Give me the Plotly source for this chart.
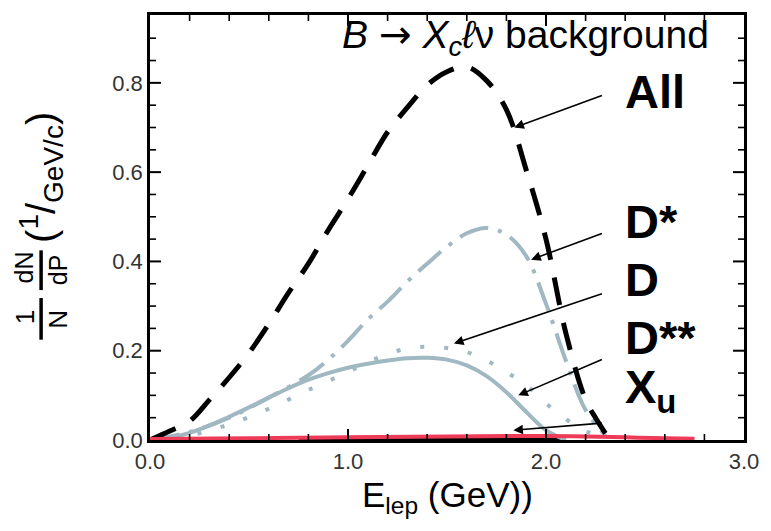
import plotly.graph_objects as go

# ---------------- data ----------------
all_x = [0.0, 0.1, 0.2, 0.3, 0.4, 0.5, 0.6, 0.7, 0.8, 0.9, 1.0, 1.1, 1.2, 1.3, 1.4, 1.5,
         1.6, 1.7, 1.8, 1.9, 2.0, 2.1, 2.2, 2.25, 2.3]
all_y = [0.0, 0.02, 0.042, 0.09, 0.14, 0.195, 0.26, 0.33, 0.395, 0.47, 0.54, 0.615, 0.69,
         0.745, 0.795, 0.825, 0.836, 0.805, 0.74, 0.605, 0.45, 0.24, 0.09, 0.05, 0.015]

dstar_x = [0.0, 0.2, 0.4, 0.6, 0.8, 0.9, 1.0, 1.1, 1.2, 1.3, 1.4, 1.5, 1.6, 1.7, 1.8,
           1.9, 2.0, 2.1, 2.2, 2.3]
dstar_y = [0.0, 0.018, 0.05, 0.095, 0.145, 0.18, 0.222, 0.27, 0.31, 0.355, 0.395, 0.433,
           0.463, 0.475, 0.46, 0.412, 0.305, 0.178, 0.067, 0.01]

d_x = [0.0, 0.1, 0.2, 0.3, 0.4, 0.5, 0.6, 0.7, 0.8, 0.9, 1.0, 1.1, 1.2, 1.3, 1.4, 1.5,
       1.6, 1.7, 1.8, 1.9, 2.0, 2.1]
d_y = [0.0, 0.005, 0.016, 0.032, 0.052, 0.073, 0.095, 0.116, 0.135, 0.15, 0.162, 0.171,
       0.178, 0.183, 0.184, 0.18, 0.167, 0.143, 0.107, 0.063, 0.022, 0.0]

dss_x = [0.0, 0.2, 0.4, 0.6, 0.8, 1.0, 1.1, 1.2, 1.3, 1.4, 1.5, 1.6, 1.7, 1.8, 1.9, 2.0,
         2.1, 2.2, 2.3]
dss_y = [0.0, 0.01, 0.035, 0.07, 0.112, 0.152, 0.174, 0.193, 0.205, 0.209, 0.206, 0.197,
         0.178, 0.152, 0.123, 0.082, 0.047, 0.02, 0.005]

xu_x = [0.0, 0.5, 1.0, 1.5, 2.0, 2.2, 2.4, 2.6, 2.75]
xu_y = [0.002, 0.004, 0.006, 0.008, 0.009, 0.008, 0.006, 0.004, 0.003]

other_x = [0.75, 1.2, 1.6, 2.1]
other_y = [0.001, 0.002, 0.002, 0.001]

# axes
x_range = [0.0, 3.0]
y_range = [0.0, 0.952]
x_tick_vals = [0.0, 1.0, 2.0, 3.0]
x_tick_text = ["0.0", "1.0", "2.0", "3.0"]
y_tick_vals = [0.0, 0.2, 0.4, 0.6, 0.8]
y_tick_text = ["0.0", "0.2", "0.4", "0.6", "0.8"]
x_minor_vals = [0.2, 0.4, 0.6, 0.8, 1.2, 1.4, 1.6, 1.8, 2.2, 2.4, 2.6, 2.8]
y_minor_vals = [0.05, 0.1, 0.15, 0.25, 0.3, 0.35, 0.45, 0.5, 0.55, 0.65, 0.7, 0.75,
                0.85, 0.9]

labels = ["All", "D*", "D", "D**", "X<sub>u</sub>"]
label_y = [0.78, 0.489, 0.36, 0.229, 0.111]
arrow_head_x = [1.84, 1.925, 1.535, 1.86, 1.835]
arrow_head_y = [0.70, 0.404, 0.216, 0.10, 0.022]
arrow_tail_x = [2.29, 2.29, 2.29, 2.29, 2.29]
arrow_tail_y = [0.773, 0.464, 0.329, 0.182, 0.038]

# ---------------- styles ----------------
GRAY = "#9fb8c2"
RED = "#ee3b57"
FONT = "Liberation Sans, Arial, Helvetica, sans-serif"
MINOR_LEN, MAJOR_LEN = 6, 11

fig = go.Figure()
fig.add_trace(go.Scatter(x=other_x, y=other_y, mode="lines", line=dict(color="black", width=3),
                         hoverinfo="skip"))
fig.add_trace(go.Scatter(x=d_x, y=d_y, mode="lines", name="D", line_shape="spline",
                         line=dict(color=GRAY, width=4)))
fig.add_trace(go.Scatter(x=dss_x, y=dss_y, mode="lines", name="D**", line_shape="spline",
                         line=dict(color=GRAY, width=4, dash="4px,20px")))
fig.add_trace(go.Scatter(x=dstar_x, y=dstar_y, mode="lines", name="D*", line_shape="spline",
                         line=dict(color=GRAY, width=4, dash="30px,10px,4px,10px")))
fig.add_trace(go.Scatter(x=all_x, y=all_y, mode="lines", name="All", line_shape="spline",
                         line=dict(color="black", width=5, dash="28px,18px")))
fig.add_trace(go.Scatter(x=xu_x, y=xu_y, mode="lines", name="Xu", line_shape="spline",
                         line=dict(color=RED, width=4)))

# ---- inside tick marks on all four sides (pixel-length shapes anchored to the frame) ----
shapes = []


def xtick(v, length, width):
    for anchor, sign in ((0, 1), (1, -1)):
        shapes.append(dict(type="line", xref="x", yref="paper", x0=v, x1=v,
                           ysizemode="pixel", yanchor=anchor, y0=0, y1=sign * length,
                           line=dict(color="black", width=width), layer="above"))


def ytick(v, length, width):
    for anchor, sign in ((0, 1), (1, -1)):
        shapes.append(dict(type="line", xref="paper", yref="y", y0=v, y1=v,
                           xsizemode="pixel", xanchor=anchor, x0=0, x1=sign * length,
                           line=dict(color="black", width=width), layer="above"))


for v in x_minor_vals:
    xtick(v, MINOR_LEN, 1.6)
for v in x_tick_vals[1:-1]:
    xtick(v, MAJOR_LEN, 2)
for v in y_minor_vals:
    ytick(v, MINOR_LEN, 1.6)
for v in y_tick_vals[1:]:
    ytick(v, MAJOR_LEN, 2)

annotations = []
for lab, ly, hx, hy, tx, ty in zip(labels, label_y, arrow_head_x, arrow_head_y,
                                    arrow_tail_x, arrow_tail_y):
    annotations.append(dict(x=2.39, y=ly, xref="x", yref="y", text="<b>%s</b>" % lab,
                            showarrow=False, xanchor="left", yanchor="middle",
                            font=dict(family=FONT, size=47, color="black")))
    annotations.append(dict(x=hx, y=hy, xref="x", yref="y", ax=tx, ay=ty, axref="x", ayref="y",
                            text="", showarrow=True, arrowhead=2, arrowsize=1.2,
                            arrowwidth=1.6, arrowcolor="black"))

annotations.append(dict(x=0.945, y=0.948, xref="paper", yref="paper",
                        text="<i>B</i> <span style='font-family:DejaVu Sans'>\u2192</span> "
                             "<i>X</i><sub><i>c</i></sub><i>\u2113</i>\u03bd background",
                        showarrow=False, xanchor="right", yanchor="middle",
                        font=dict(family=FONT, size=39, color="black")))

annotations.append(dict(x=0.5, y=-0.135, xref="paper", yref="paper",
                        text="E<sub>lep</sub> (GeV))", showarrow=False,
                        xanchor="center", yanchor="middle",
                        font=dict(family=FONT, size=35, color="black")))


def px(xp):
    return (xp - 150) / 600.0


def py(yp):
    return (440 - yp) / 428.0


ytitle_parts = [("1", 24, 316, 26), ("N", 57, 318, 26), ("dN", 23, 266, 25), ("dP", 57, 268, 25),
                ("(<sup>1</sup>/<sub>GeV/c</sub>)", 40, 176, 40)]
for t, xx, yy, sz in ytitle_parts:
    annotations.append(dict(x=px(xx), y=py(yy), xref="paper", yref="paper", text=t,
                            textangle=-90, showarrow=False, xanchor="center", yanchor="middle",
                            font=dict(family=FONT, size=sz, color="black")))

shapes += [
    dict(type="line", xref="paper", yref="paper", x0=px(40), x1=px(40), y0=py(297), y1=py(339),
         line=dict(color="black", width=3.5)),
    dict(type="line", xref="paper", yref="paper", x0=px(40), x1=px(40), y0=py(249), y1=py(289),
         line=dict(color="black", width=3.5)),
]

tickfont = dict(family=FONT, size=22, color="#333333")
fig.update_layout(
    width=771, height=531,
    margin=dict(l=150, r=21, t=12, b=91),
    paper_bgcolor="white", plot_bgcolor="white",
    showlegend=False,
    font=dict(family=FONT),
    annotations=annotations,
    shapes=shapes,
)
fig.update_xaxes(range=x_range, tickmode="array", tickvals=x_tick_vals, ticktext=x_tick_text,
                 ticks="", showline=True, linecolor="black", linewidth=2.5, mirror=True,
                 showgrid=False, zeroline=False, tickfont=tickfont)
fig.update_yaxes(range=y_range, tickmode="array", tickvals=y_tick_vals, ticktext=y_tick_text,
                 ticks="", showline=True, linecolor="black", linewidth=2.5, mirror=True,
                 showgrid=False, zeroline=False, tickfont=tickfont, ticksuffix="  ")

fig.write_html("out.html")
